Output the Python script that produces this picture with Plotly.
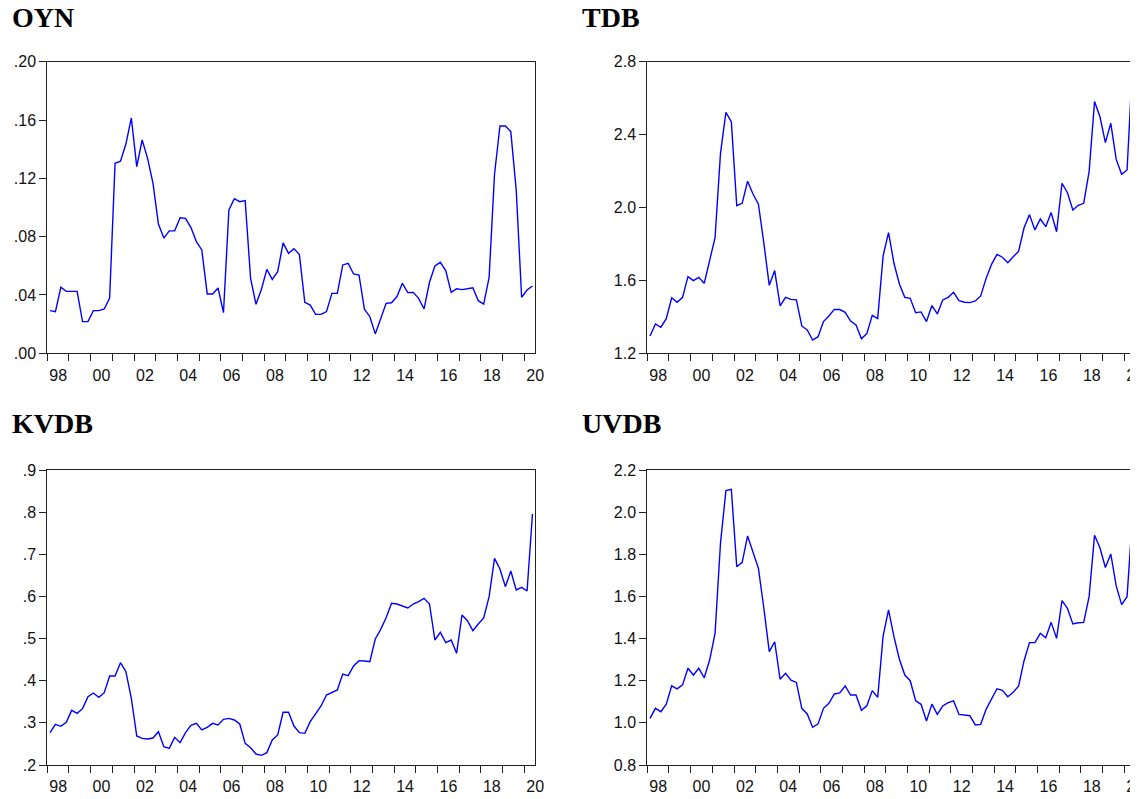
import numpy as np
import plotly.graph_objects as go

W, H = 1137, 799

# ---------------- data (quarterly, 1998Q1 - 2020Q2) ----------------
start_year = 1998

oyn = [0.0293, 0.0286, 0.0453, 0.0425, 0.0425, 0.0425, 0.0217, 0.0217, 0.0293, 0.0293,
       0.0304, 0.0379, 0.1303, 0.1317, 0.1435, 0.1614, 0.1280, 0.1463, 0.1337, 0.1166,
       0.0887, 0.0790, 0.0840, 0.0840, 0.0930, 0.0926, 0.0862, 0.0766, 0.0709, 0.0407,
       0.0407, 0.0448, 0.0279, 0.0983, 0.1060, 0.1040, 0.1047, 0.0514, 0.0336, 0.0439,
       0.0576, 0.0507, 0.0560, 0.0757, 0.0686, 0.0718, 0.0677, 0.0350, 0.0331, 0.0267,
       0.0267, 0.0286, 0.0411, 0.0411, 0.0606, 0.0617, 0.0544, 0.0537, 0.0302, 0.0251,
       0.0133, 0.0238, 0.0343, 0.0347, 0.0389, 0.0480, 0.0416, 0.0418, 0.0377, 0.0304,
       0.0487, 0.0599, 0.0624, 0.0567, 0.0418, 0.0443, 0.0437, 0.0443, 0.0450, 0.0361,
       0.0338, 0.0521, 0.1230, 0.1559, 0.1559, 0.1520, 0.1120, 0.0384, 0.0434, 0.0462]

tdb = [1.295, 1.361, 1.343, 1.390, 1.505, 1.480, 1.507, 1.621, 1.599, 1.617,
       1.584, 1.712, 1.835, 2.297, 2.522, 2.471, 2.010, 2.023, 2.144, 2.074,
       2.018, 1.804, 1.573, 1.654, 1.460, 1.507, 1.496, 1.493, 1.350, 1.328,
       1.273, 1.291, 1.374, 1.405, 1.441, 1.440, 1.425, 1.377, 1.355, 1.280,
       1.308, 1.408, 1.390, 1.734, 1.862, 1.694, 1.580, 1.507, 1.502, 1.423,
       1.427, 1.374, 1.462, 1.416, 1.493, 1.507, 1.535, 1.489, 1.480, 1.478,
       1.487, 1.515, 1.611, 1.688, 1.743, 1.727, 1.697, 1.730, 1.760, 1.889,
       1.961, 1.877, 1.937, 1.895, 1.972, 1.867, 2.133, 2.081, 1.986, 2.012,
       2.023, 2.197, 2.581, 2.498, 2.356, 2.462, 2.264, 2.182, 2.206, 2.780]

kvdb = [0.2767, 0.2965, 0.2918, 0.3012, 0.3297, 0.3226, 0.3337, 0.3621, 0.3708, 0.3606,
        0.3716, 0.4112, 0.4112, 0.4428, 0.4215, 0.3582, 0.2688, 0.2633, 0.2617, 0.2641,
        0.2791, 0.2435, 0.2395, 0.2656, 0.2530, 0.2767, 0.2941, 0.2989, 0.2831, 0.2894,
        0.2989, 0.2949, 0.3084, 0.3107, 0.3068, 0.2973, 0.2514, 0.2411, 0.2261, 0.2229,
        0.2293, 0.2593, 0.2712, 0.3250, 0.3250, 0.2925, 0.2767, 0.2751, 0.3028, 0.3226,
        0.3400, 0.3661, 0.3724, 0.3780, 0.4159, 0.4120, 0.4349, 0.4476, 0.4468, 0.4452,
        0.4990, 0.5219, 0.5496, 0.5836, 0.5820, 0.5781, 0.5725, 0.5820, 0.5876, 0.5955,
        0.5820, 0.4966, 0.5148, 0.4903, 0.4966, 0.4650, 0.5559, 0.5425, 0.5188, 0.5346,
        0.5488, 0.5994, 0.6904, 0.6651, 0.6232, 0.6603, 0.6153, 0.6216, 0.6129, 0.7956]

uvdb = [1.021, 1.069, 1.053, 1.089, 1.176, 1.161, 1.180, 1.259, 1.227, 1.259,
        1.214, 1.298, 1.425, 1.852, 2.102, 2.108, 1.741, 1.762, 1.887, 1.812,
        1.733, 1.544, 1.338, 1.385, 1.207, 1.235, 1.203, 1.192, 1.069, 1.042,
        0.979, 0.995, 1.069, 1.093, 1.137, 1.142, 1.175, 1.132, 1.132, 1.060,
        1.081, 1.153, 1.121, 1.412, 1.536, 1.409, 1.302, 1.227, 1.200, 1.105,
        1.088, 1.009, 1.089, 1.040, 1.080, 1.096, 1.104, 1.040, 1.036, 1.034,
        0.990, 0.993, 1.064, 1.112, 1.162, 1.154, 1.124, 1.145, 1.175, 1.295,
        1.381, 1.381, 1.425, 1.404, 1.477, 1.401, 1.580, 1.544, 1.469, 1.475,
        1.477, 1.599, 1.890, 1.831, 1.737, 1.801, 1.650, 1.561, 1.599, 1.980]

label_years = [1998, 2000, 2002, 2004, 2006, 2008, 2010, 2012, 2014, 2016, 2018, 2020]
year_labels = ["98", "00", "02", "04", "06", "08", "10", "12", "14", "16", "18", "20"]
tick_years = list(range(1998, 2021))

oyn_ticks = [0.00, 0.04, 0.08, 0.12, 0.16, 0.20]
oyn_text = [".00", ".04", ".08", ".12", ".16", ".20"]
tdb_ticks = [1.2, 1.6, 2.0, 2.4, 2.8]
tdb_text = ["1.2", "1.6", "2.0", "2.4", "2.8"]
kvdb_ticks = [0.2, 0.3, 0.4, 0.5, 0.6, 0.7, 0.8, 0.9]
kvdb_text = [".2", ".3", ".4", ".5", ".6", ".7", ".8", ".9"]
uvdb_ticks = [0.8, 1.0, 1.2, 1.4, 1.6, 1.8, 2.0, 2.2]
uvdb_text = ["0.8", "1.0", "1.2", "1.4", "1.6", "1.8", "2.0", "2.2"]

titles = ["OYN", "TDB", "KVDB", "UVDB"]

# ---------------- layout geometry (pixels) ----------------
n = len(oyn)
x = start_year + (np.arange(n) + 0.5) / 4.0  # quarter midpoints

col_x = [(47.3, 535.3), (647.3, 1135.3)]
row_y = [(61.7, 353.3), (470.0, 765.0)]
title_pos = [(10, 18), (580, 18), (10, 423), (580, 423)]

panels = [
    (oyn, oyn_ticks, oyn_text, 0, 0),
    (tdb, tdb_ticks, tdb_text, 0, 1),
    (kvdb, kvdb_ticks, kvdb_text, 1, 0),
    (uvdb, uvdb_ticks, uvdb_text, 1, 1),
]

tick_font = dict(family="Liberation Sans, Arial, sans-serif", size=16, color="#111111")
axis_color = "#222222"

fig = go.Figure()
layout = dict(
    width=W, height=H, autosize=False,
    margin=dict(l=0, r=0, t=0, b=0, autoexpand=False),
    paper_bgcolor="white", plot_bgcolor="white",
    showlegend=False,
    annotations=[], shapes=[],
)

for k, (vals, yt, ytxt, r, c) in enumerate(panels):
    sfx = "" if k == 0 else str(k + 1)
    fig.add_trace(go.Scatter(
        x=x, y=vals, mode="lines",
        line=dict(color="#0000FF", width=1.4),
        xaxis="x" + sfx, yaxis="y" + sfx, hoverinfo="skip",
    ))
    x0, x1 = col_x[c]
    y0, y1 = row_y[r]
    layout["xaxis" + sfx] = dict(
        domain=[x0 / W, x1 / W], anchor="y" + sfx,
        range=[1998, 2020.505], automargin=False,
        tickmode="array",
        tickvals=[yy + 0.5 for yy in label_years], ticktext=year_labels,
        ticks="outside", ticklen=7, tickcolor="rgba(0,0,0,0)",
        ticklabeloverflow="allow",
        minor=dict(tickmode="array", tickvals=tick_years, ticks="outside",
                   ticklen=7, tickwidth=1, tickcolor=axis_color, showgrid=False),
        showline=True, linecolor=axis_color, linewidth=1, mirror=True,
        showgrid=False, zeroline=False, tickfont=tick_font,
    )
    layout["yaxis" + sfx] = dict(
        domain=[1 - y1 / H, 1 - y0 / H], anchor="x" + sfx,
        range=[yt[0], yt[-1]], automargin=False,
        tickmode="array", tickvals=yt, ticktext=ytxt,
        ticks="outside", ticklen=7, tickwidth=1, tickcolor=axis_color,
        showline=True, linecolor=axis_color, linewidth=1, mirror=True,
        showgrid=False, zeroline=False, tickfont=tick_font,
    )
    tx, ty = title_pos[k]
    layout["annotations"].append(dict(
        text="<b>%s</b>" % titles[k], xref="paper", yref="paper",
        x=tx / W, y=1 - ty / H, xanchor="left", yanchor="middle",
        showarrow=False,
        font=dict(family="Liberation Serif, Times New Roman, serif", size=28, color="#000000"),
    ))

# the reference picture is cut off at the right edge
layout["shapes"].append(dict(
    type="rect", xref="paper", yref="paper",
    x0=1130 / W, x1=1.05, y0=-0.05, y1=1.05,
    fillcolor="white", line=dict(width=0), layer="above",
))

fig.update_layout(**layout)
fig.write_html("out.html", config={"displayModeBar": False},
               post_script="document.body.style.margin='0';")
